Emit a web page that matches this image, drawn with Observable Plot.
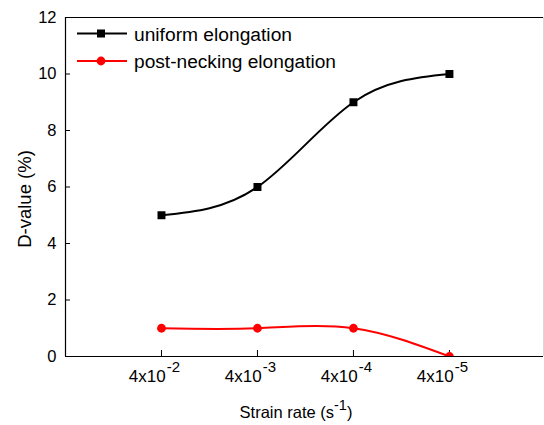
<!DOCTYPE html>
<html>
<head>
<meta charset="utf-8">
<script src="https://cdn.jsdelivr.net/npm/d3@7"></script>
<script src="https://cdn.jsdelivr.net/npm/@observablehq/plot@0.6"></script>
<style>
  body { margin: 0; background: #fff; }
  #chart { width: 544px; height: 425px; }
  #chart text { font-family: "Liberation Sans", Arial, sans-serif; }
</style>
</head>
<body>
<div id="chart"></div>
<script>
// Strain rates, written as mantissa x 10^exponent
const rateMantissa = ["4x10", "4x10", "4x10", "4x10"];
const rateExponent = ["-2", "-3", "-4", "-5"];

// D-values (%) for each strain rate
const uniformElongation = [5, 6, 9, 10];
const postNeckingElongation = [1, 1, 1, 0];

// Axis ticks
const yTicks = [0, 2, 4, 6, 8, 10, 12];
const xTicks = [1, 2, 3, 4];

const seriesNames = ["uniform elongation", "post-necking elongation"];
const seriesColors = ["#000000", "#ff0000"];

const rows = rateExponent.map((e, i) => ({
  pos: i + 1,
  uniform: uniformElongation[i],
  post: postNeckingElongation[i]
}));

const font = "'Liberation Sans', Arial, sans-serif";

const plot = Plot.plot({
  width: 544,
  height: 425,
  marginLeft: 65,
  marginRight: 1,
  marginTop: 17,
  marginBottom: 69,
  style: { fontFamily: font, fontSize: "16px", color: "#000", background: "#fff", overflow: "visible" },
  x: { domain: [0, 4.98] },
  y: { domain: [0, 12] },
  marks: [
    Plot.ruleX([0], { stroke: "#000", strokeWidth: 1.2 }),
    Plot.ruleY([0], { stroke: "#000", strokeWidth: 1.2 }),
    Plot.ruleY([12], { stroke: "#000", strokeWidth: 1.2 }),
    Plot.ruleX([4.98], { stroke: "#d8d8d8", strokeWidth: 1 }),
    Plot.axisY(yTicks, { tickSize: -5, tickPadding: 14, label: null, fontSize: 16.5, stroke: "#000" }),
    // inward x ticks
    Plot.axisX(xTicks, { tickSize: -6, label: null, tickFormat: () => "", stroke: "#000" }),
    // x tick labels, exponent added as superscript below
    Plot.axisX(xTicks, { tickSize: 0, tickPadding: 13, label: null, fontSize: 17, dx: -7, tickFormat: (d) => rateMantissa[d - 1] + "|" + rateExponent[d - 1] }),
    Plot.line(rows, { x: "pos", y: "uniform", curve: "natural", stroke: seriesColors[0], strokeWidth: 2, clip: true }),
    Plot.dot(rows, { x: "pos", y: "uniform", symbol: "square", r: 4.5, fill: seriesColors[0], stroke: "none", clip: true }),
    Plot.line(rows, { x: "pos", y: "post", curve: "natural", stroke: seriesColors[1], strokeWidth: 2, clip: true }),
    Plot.dot(rows, { x: "pos", y: "post", symbol: "circle", r: 4.4, fill: seriesColors[1], stroke: "none", clip: true })
  ]
});

document.getElementById("chart").appendChild(plot);

const svg = d3.select(plot);

// Superscript exponents on the x tick labels
svg.selectAll('g[aria-label="x-axis tick label"] text').each(function () {
  const t = d3.select(this);
  const parts = t.text().split("|");
  if (parts.length < 2) return;
  t.text(null);
  t.append("tspan").text(parts[0]);
  t.append("tspan").attr("dy", -10).attr("dx", 1).attr("font-size", 15).text(parts[1]);
});

// Axis titles
svg.append("text")
  .attr("transform", "translate(31,199) rotate(-90)")
  .attr("text-anchor", "middle")
  .attr("font-size", 18.5)
  .attr("fill", "#000")
  .text("D-value (%)");

const xTitle = svg.append("text")
  .attr("x", 296)
  .attr("y", 418)
  .attr("text-anchor", "middle")
  .attr("font-size", 16.5)
  .attr("fill", "#000");
xTitle.append("tspan").text("Strain rate (s");
xTitle.append("tspan").attr("dy", -8).attr("font-size", 14.5).text("-1");
xTitle.append("tspan").attr("dy", 8).text(")");

// Legend
const legend = svg.append("g");
const legendY = [33.5, 61];
const legendWidths = [158, 202];
seriesNames.forEach((name, i) => {
  const g = legend.append("g").attr("transform", `translate(0,${legendY[i]})`);
  g.append("line").attr("x1", 77).attr("x2", 127).attr("stroke", seriesColors[i]).attr("stroke-width", 2);
  if (i === 0) {
    g.append("rect").attr("x", 97).attr("y", -4).attr("width", 8).attr("height", 8).attr("fill", seriesColors[i]);
  } else {
    g.append("circle").attr("cx", 101).attr("r", 4.4).attr("fill", seriesColors[i]);
  }
  g.append("text")
    .attr("x", 134)
    .attr("y", 7)
    .attr("text-anchor", "start")
    .attr("font-size", 18)
    .attr("textLength", legendWidths[i])
    .attr("lengthAdjust", "spacingAndGlyphs")
    .attr("fill", "#000")
    .text(name);
});
</script>
</body>
</html>
